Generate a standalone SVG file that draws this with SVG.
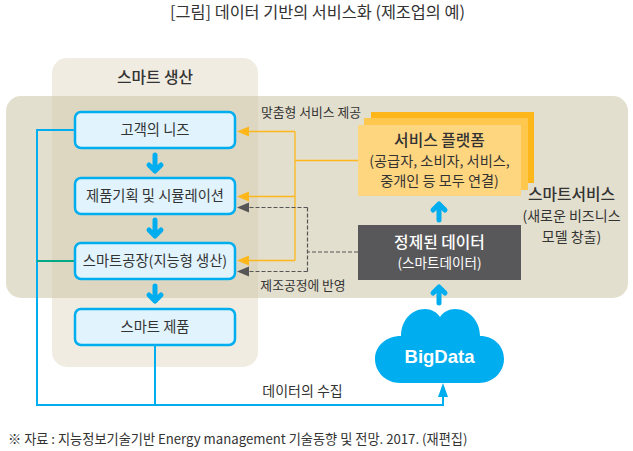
<svg xmlns="http://www.w3.org/2000/svg" width="633" height="451" viewBox="0 0 633 451">
<style>
text{font-family:"Noto Sans CJK KR","Liberation Sans",sans-serif;fill:#333;text-anchor:middle}
.n{fill:#e1f3fd;stroke:#00aeef;stroke-width:2.5}
.t{font-size:14.300px}
.s{font-size:12.800px}
.h{font-size:15.800px;font-weight:500}
.o{fill:none;stroke:#fdb71a;stroke-width:1.3}
.d{fill:none;stroke:#555;stroke-width:1.2;stroke-dasharray:4 2}
.b{fill:none;stroke:#00aeef;stroke-width:2}
.g{fill:none;stroke:#00a986;stroke-width:2}
.fat{fill:none;stroke:#00aeef;stroke-width:5;stroke-linecap:round;stroke-linejoin:round}
</style>
<text x="317.500" y="18" style="font-size:16.300px">[그림] 데이터 기반의 서비스화 (제조업의 예)</text>
<g id="panel-production"><rect x="52" y="58" width="206" height="309" rx="15" fill="#f0ece1"/></g>
<g id="panel-service"><rect x="6" y="96" width="622" height="202" rx="15" fill="#d0c9ae" fill-opacity=".6"/></g>
<text class="h" x="155" y="83">스마트 생산</text>
<g id="connectors">
<path class="b" d="M75 130H37V405H443V396"/>
<path class="b" d="M155 345V405"/>
<path class="g" d="M37 261H75"/>
<path d="M443 383L448 397H438Z" fill="#00aeef"/>
<path class="o" d="M358 160.500H295M295 131.500V260.500M295 131.500H248M295 196.500H248M295 260.500H248"/>
<path d="M237 131.500l12-5v10zM237 196.500l12-5v10zM237 260.500l12-5v10z" fill="#fdb71a"/>
<path class="d" d="M358 252H307.500M307.500 207.500V271.500M307.500 207.500H248M307.500 271.500H248"/>
<path d="M237 207.500l12-5v10zM237 271.500l12-5v10z" fill="#555"/>
<path class="fat" d="M155 155V170M149 165L155 171L161 165"/>
<path class="fat" d="M155 220V235M149 230L155 236L161 230"/>
<path class="fat" d="M155 286V301M149 295L155 301L161 295"/>
<path class="fat" d="M439 220V204M433 210L439 204L445 210"/>
<path class="fat" d="M439 303V287M433 293L439 287L445 293"/>
</g>
<g id="node-needs"><rect class="n" x="75" y="112" width="160" height="36" rx="6"/><text class="t" x="155" y="135">고객의 니즈</text></g>
<g id="node-planning"><rect class="n" x="75" y="178" width="160" height="36" rx="6"/><text class="t" x="155" y="201">제품기획 및 시뮬레이션</text></g>
<g id="node-factory"><rect class="n" x="75" y="243" width="160" height="36" rx="6"/><text class="t" x="155" y="266">스마트공장(지능형 생산)</text></g>
<g id="node-product"><rect class="n" x="75" y="309" width="160" height="36" rx="6"/><text class="t" x="155" y="332">스마트 제품</text></g>
<g id="node-platform">
<rect x="371" y="112" width="163" height="71" fill="#fdb71a"/>
<rect x="364" y="118" width="164" height="72" fill="#fec84e"/>
<rect x="358" y="125" width="163" height="71" fill="#ffd680"/>
<text class="h" x="439.500" y="146">서비스 플랫폼</text>
<text x="439.500" y="166" style="font-size:14.200px">(공급자, 소비자, 서비스,</text>
<text x="439.500" y="186" style="font-size:14.200px">중개인 등 모두 연결)</text>
</g>
<g id="node-smartdata">
<rect x="358" y="225" width="163" height="55" fill="#58585a"/>
<text class="h" x="439.500" y="248" style="fill:#fff">정제된 데이터</text>
<text x="439.500" y="268" style="font-size:13.600px;fill:#fff">(스마트데이터)</text>
</g>
<g id="node-bigdata">
<path d="M401 336C401 320 412 309 425 309C431 309 437 312 440 317C443 312 449 309 455 309C468 309 480 320 480 336C494 336 504 346 504 359C504 372 493 383 479 383H400C386 383 375 372 375 359C375 346 386 336 401 336Z" fill="#00aeef"/>
<text x="439.500" y="363" style="font-family:'Liberation Sans',sans-serif;font-size:18.500px;font-weight:700;fill:#fff">BigData</text>
</g>
<text class="h" x="571.500" y="200">스마트서비스</text>
<text x="571.500" y="221" style="font-size:14px">(새로운 비즈니스</text>
<text x="571.500" y="242" style="font-size:14px">모델 창출)</text>
<text class="s" x="311" y="117">맞춤형 서비스 제공</text>
<text class="s" x="303" y="290">제조공정에 반영</text>
<text x="302.500" y="396" style="font-size:14px">데이터의 수집</text>
<text x="8" y="444" style="font-size:13.200px;text-anchor:start">※ 자료 : 지능정보기술기반 Energy management 기술동향 및 전망. 2017. (재편집)</text>
</svg>
